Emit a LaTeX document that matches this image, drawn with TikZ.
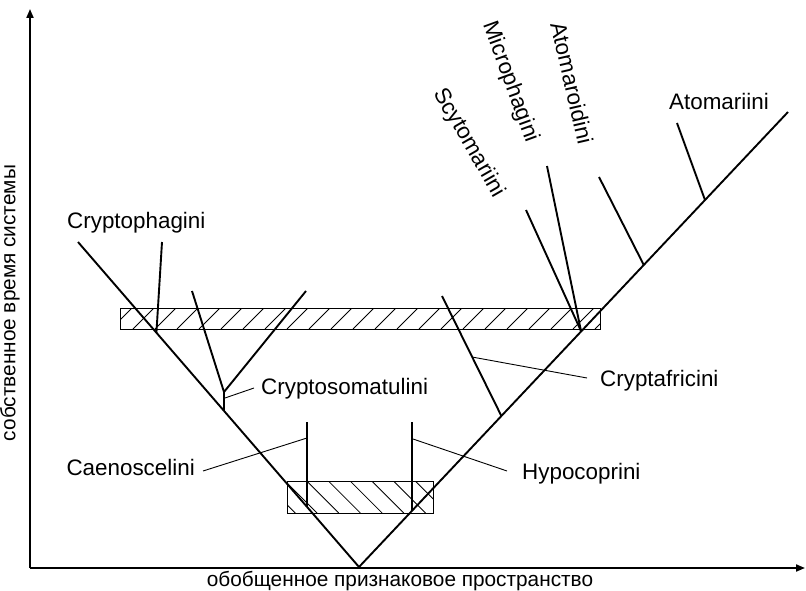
\documentclass[tikz,border=0pt]{standalone}
\usepackage{fontspec}
\setmainfont{Liberation Sans}
\usetikzlibrary{arrows.meta}
\begin{document}
\begin{tikzpicture}[x=1pt,y=-1pt,
  mainline/.style={line width=1.9pt},
  leader/.style={line width=0.9pt},
  boxline/.style={line width=0.9pt},
  hatchline/.style={line width=0.8pt},
  lbl/.style={inner sep=0pt, font=\fontsize{22.4}{26}\selectfont},
  axlbl/.style={inner sep=0pt, font=\fontsize{20.8}{25}\selectfont},
  axis/.style={line width=1.9pt, -{Triangle[length=9pt,width=7pt]}}
]
\useasboundingbox (0,0) rectangle (806,591);
% axes
\coordinate (O) at (30,568);
\coordinate (Ytop) at (30,9);
\coordinate (Xend) at (805,568);
\draw[axis] (O) -- (Ytop);
\draw[axis] (O) -- (Xend);
\node[axlbl, anchor=base] (xlab) at (400,586) {обобщенное признаковое пространство};
\node[axlbl, rotate=90, anchor=base] (ylab) at (15.5,303) {собственное время системы};

% hatched bands
\coordinate (U1) at (120,308);
\coordinate (U2) at (600,329);
\begin{scope}
  \clip (U1) rectangle (U2);
  \foreach \k in {19,...,43} {
    \draw[hatchline] ({22*\k-329},329) -- ({22*\k-308},308);
  }
\end{scope}
\draw[boxline] (U1) rectangle (U2);

\coordinate (L1) at (287,481);
\coordinate (L2) at (433,513);
\begin{scope}
  \clip (L1) rectangle (L2);
  \foreach \m in {-3,...,6} {
    \pgfmathsetmacro{\c}{-174.3+21.7*\m}
    \draw[hatchline] ({\c+481},481) -- ({\c+513},513);
  }
\end{scope}
\draw[boxline] (L1) rectangle (L2);

% main V
\coordinate (B) at (359,567);
\coordinate (LT) at (78,242);
\coordinate (RT) at (788,112);
\draw[mainline] (LT) -- (B) -- (RT);

% Cryptophagini
\coordinate (CPa) at (162,242);
\coordinate (CPb) at (156.4,333);
\draw[mainline] (CPa) -- (CPb);
\node[lbl, anchor=base west] (cryptophagini) at (67,228) {Cryptophagini};

% Cryptosomatulini
\coordinate (J) at (224,392);
\coordinate (CSa) at (192,291);
\coordinate (CSb) at (306,291);
\coordinate (CSc) at (224,410.9);
\draw[mainline] (CSa) -- (J) -- (CSb);
\draw[mainline] (J) -- (CSc);
\coordinate (CSl) at (225,398);
\coordinate (CSm) at (254,388);
\draw[leader] (CSl) -- (CSm);
\node[lbl, anchor=base west] (cryptosomatulini) at (261,394.5) {Cryptosomatulini};

% Caenoscelini
\coordinate (CAt) at (307,422);
\coordinate (CAb) at (307,506.9);
\draw[mainline] (CAt) -- (CAb);
\coordinate (CAl) at (307,438);
\coordinate (CAm) at (203,471);
\draw[leader] (CAl) -- (CAm);
\node[lbl, anchor=base east] (caenoscelini) at (195,475) {Caenoscelini};

% Hypocoprini
\coordinate (HYt) at (412,422);
\coordinate (HYb) at (412,510.8);
\draw[mainline] (HYt) -- (HYb);
\coordinate (HYl) at (413,439);
\coordinate (HYm) at (507,471);
\draw[leader] (HYl) -- (HYm);
\node[lbl, anchor=base west] (hypocoprini) at (522,479) {Hypocoprini};

% Cryptafricini
\coordinate (CFa) at (442,296);
\coordinate (CFb) at (501.4,416);
\draw[mainline] (CFa) -- (CFb);
\coordinate (CFl) at (472,357);
\coordinate (CFm) at (587,378);
\draw[leader] (CFl) -- (CFm);
\node[lbl, anchor=base west] (cryptafricini) at (600,386) {Cryptafricini};

% top cluster
\coordinate (K) at (581,331);
\coordinate (SCa) at (526,210);
\coordinate (MIa) at (547,166);
\draw[mainline] (SCa) -- (K);
\draw[mainline] (MIa) -- (K);
\coordinate (ATa) at (599,177);
\coordinate (ATb) at (643.8,265);
\draw[mainline] (ATa) -- (ATb);
\coordinate (AMa) at (677,123);
\coordinate (AMb) at (705,200);
\draw[mainline] (AMa) -- (AMb);

\node[lbl, rotate=-60] (scytomariini) at (469,143) {Scytomariini};
\node[lbl, rotate=-70] (microphagini) at (510,82) {Microphagini};
\node[lbl, rotate=-77] (atomaroidini) at (572,83) {Atomaroidini};
\node[lbl, anchor=base west] (atomariini) at (669,110) {Atomariini};
\end{tikzpicture}
\end{document}
